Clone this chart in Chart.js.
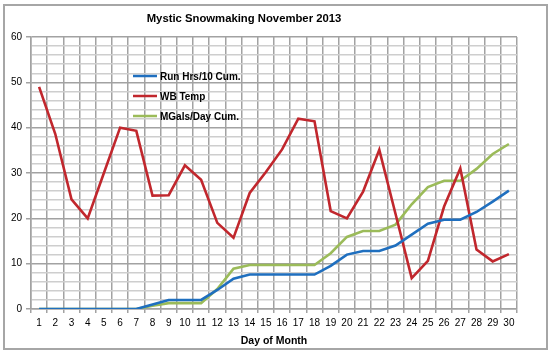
<!DOCTYPE html>
<html>
<head>
<meta charset="utf-8">
<script src="https://cdn.jsdelivr.net/npm/chart.js@4"></script>
<style>
  body { margin: 0; background: #fff; }
  #wrap { position: relative; width: 550px; height: 353px; }
  #frame { position: absolute; left: 3px; top: 4px; width: 541px; height: 342px; border: 2px solid #a6a6a6; pointer-events: none; }
</style>
</head>
<body>
<div id="wrap">
  <canvas id="snowChart" width="550" height="353"></canvas>
  <div id="frame"></div>
</div>
<script>
// data
const days = ['1','2','3','4','5','6','7','8','9','10','11','12','13','14','15','16','17','18','19','20','21','22','23','24','25','26','27','28','29','30'];
const runHrs = [0,0,0,0,0,0,0,1.0,2.0,2.0,2.0,4.2,6.7,7.6,7.6,7.6,7.6,7.6,9.5,12.0,12.8,12.8,14.0,16.4,18.8,19.7,19.7,21.4,23.7,26.1];
const wbTemp = [49,38.6,24.2,20,30,40,39.3,25,25.1,31.7,28.5,19,15.7,25.6,30.2,35.2,42,41.4,21.6,20,25.9,35.1,21,6.8,10.6,22.6,31,13.1,10.5,12.1];
const mGals = [0,0,0,0,0,0,0,0.7,1.3,1.3,1.3,4.4,8.9,9.7,9.7,9.7,9.7,9.7,12.3,15.9,17.2,17.2,18.6,23.1,26.9,28.3,28.3,30.9,34.2,36.4];

const chartTitle = 'Mystic Snowmaking November 2013';

// title + legend drawn inside the plot like the original
const overlay = {
  id: 'overlay',
  afterDraw(chart) {
    const ctx = chart.ctx;
    ctx.save();
    ctx.fillStyle = '#000';
    ctx.font = 'bold 11.3px "Liberation Sans", Arial, sans-serif';
    ctx.textAlign = 'center';
    ctx.textBaseline = 'middle';
    ctx.fillText(chartTitle, 244, 19);

    ctx.font = 'bold 10px "Liberation Sans", Arial, sans-serif';
    ctx.textAlign = 'left';
    chart.data.datasets.forEach((ds, i) => {
      const y = 76 + i * 20;
      ctx.strokeStyle = ds.borderColor;
      ctx.lineWidth = 2.5;
      ctx.beginPath();
      ctx.moveTo(133, y);
      ctx.lineTo(157, y);
      ctx.stroke();
      ctx.fillText(ds.label, 160, y + 1);
    });
    ctx.restore();
  }
};

new Chart(document.getElementById('snowChart'), {
  type: 'line',
  data: {
    labels: days,
    datasets: [
      { label: 'Run Hrs/10 Cum.', data: runHrs, borderColor: '#1f6fbf', borderWidth: 2.6, pointRadius: 0, tension: 0 },
      { label: 'WB Temp', data: wbTemp, borderColor: '#c1272d', borderWidth: 2.6, pointRadius: 0, tension: 0 },
      { label: 'MGals/Day Cum.', data: mGals, borderColor: '#9bbb59', borderWidth: 2.6, pointRadius: 0, tension: 0 }
    ]
  },
  options: {
    responsive: false,
    animation: false,
    layout: { padding: { left: 0, top: 37, right: 33, bottom: 0 } },
    plugins: {
      legend: { display: false },
      title: { display: false },
      tooltip: { enabled: false }
    },
    scales: {
      x: {
        offset: true,
        afterFit: s => { s.height = 44; },
        grid: { offset: true, color: '#a2a2a2', lineWidth: 1.5, tickColor: '#a2a2a2', tickLength: 4 },
        border: { color: '#a2a2a2', width: 1.5 },
        ticks: { color: '#000', padding: 4, maxRotation: 0, autoSkip: false, font: { size: 10, family: '"Liberation Sans", Arial, sans-serif' } },
        title: { display: true, text: 'Day of Month', color: '#000', padding: { top: 0, bottom: 6 }, font: { size: 10.5, weight: 'bold', family: '"Liberation Sans", Arial, sans-serif' } }
      },
      y: {
        min: 0,
        max: 60,
        afterFit: s => { s.width = 31; },
        grid: {
          color: c => (c.tick && c.tick.value % 10 === 0) ? '#a2a2a2' : '#cecece',
          lineWidth: 1.5,
          tickColor: c => (c.tick && c.tick.value % 10 === 0) ? '#a2a2a2' : 'rgba(0,0,0,0)',
          tickLength: 5
        },
        border: { color: '#a2a2a2', width: 1.5 },
        ticks: {
          stepSize: 2,
          autoSkip: false,
          padding: 4,
          color: '#000',
          font: { size: 10, family: '"Liberation Sans", Arial, sans-serif' },
          callback: v => (v % 10 === 0 ? v : '')
        }
      }
    }
  },
  plugins: [overlay]
});
</script>
</body>
</html>
